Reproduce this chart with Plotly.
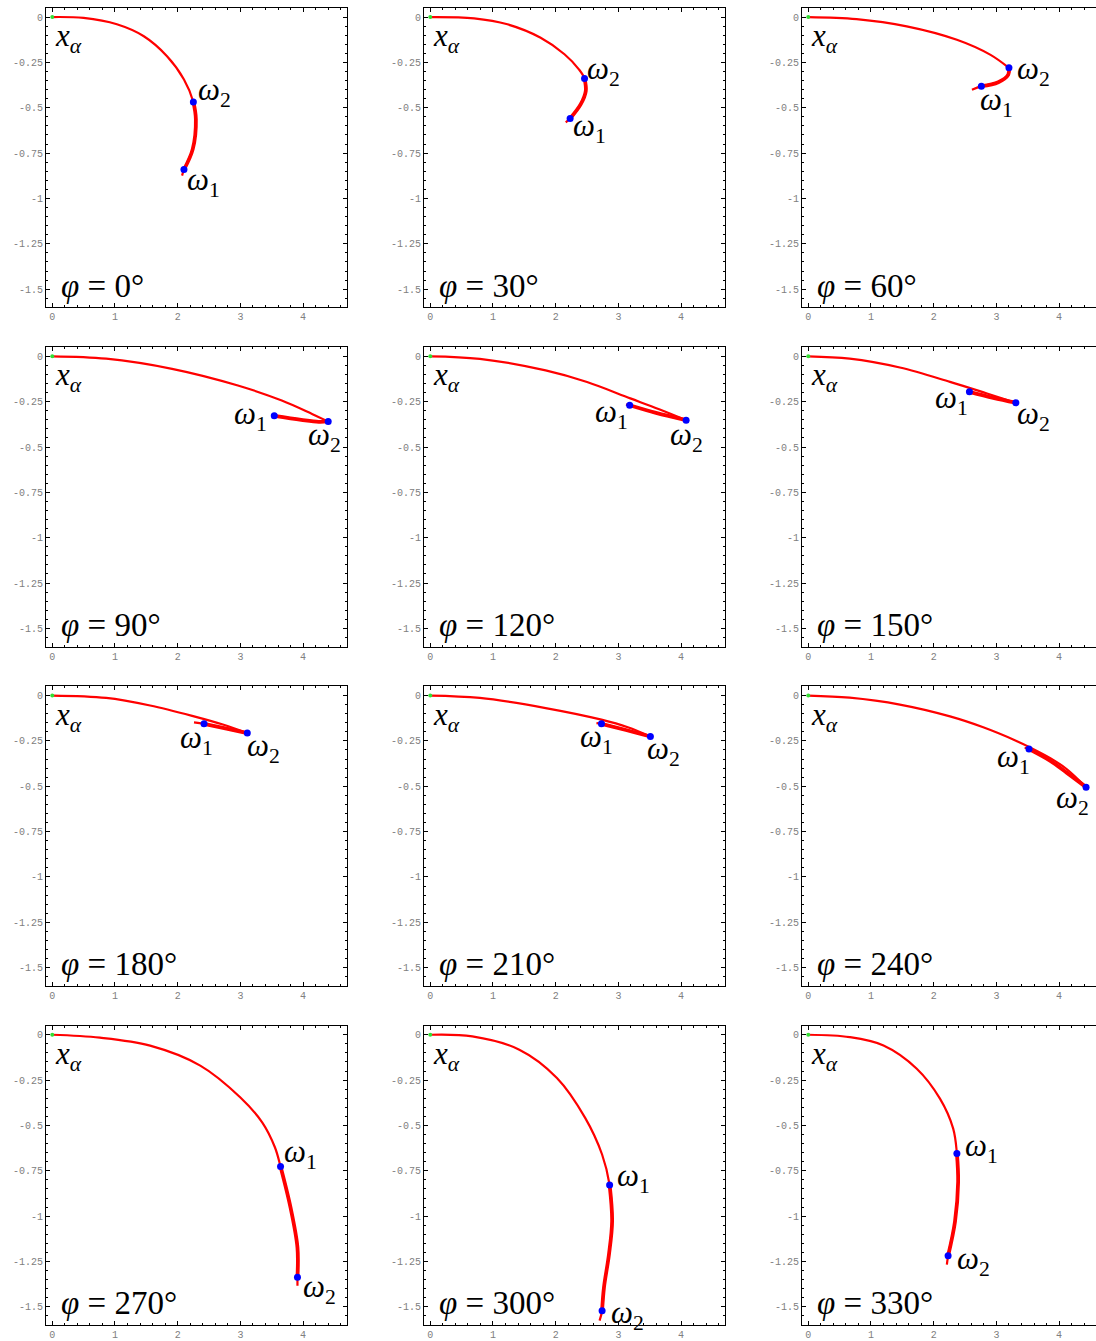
import plotly.graph_objects as go

# ---------------- data ----------------
phi_deg = [0, 30, 60, 90, 120, 150, 180, 210, 240, 270, 300, 330]

x_ticks = [0, 1, 2, 3, 4]
x_tick_text = ["0", "1", "2", "3", "4"]
y_ticks = [0, -0.25, -0.5, -0.75, -1, -1.25, -1.5]
y_tick_text = ["0", "-0.25", "-0.5", "-0.75", "-1", "-1.25", "-1.5"]

path_x_000 = [0, 0.50, 1.03, 1.46, 1.83, 2.10, 2.25, 2.29, 2.24, 2.10, 2.07]
path_y_000 = [0, -0.005, -0.04, -0.106, -0.216, -0.344, -0.468, -0.563, -0.728, -0.841, -0.874]
path_x_030 = [0, 0.70, 1.23, 1.76, 2.14, 2.37, 2.46, 2.48, 2.40, 2.23, 2.16]
path_y_030 = [0, -0.007, -0.04, -0.114, -0.205, -0.288, -0.339, -0.407, -0.48, -0.559, -0.581]
path_x_060 = [0, 0.77, 1.57, 2.37, 2.90, 3.20, 3.19, 3.03, 2.76, 2.61]
path_y_060 = [0, -0.011, -0.051, -0.125, -0.207, -0.280, -0.317, -0.359, -0.381, -0.401]
path_x_090 = [0, 0.86, 1.91, 2.96, 3.66, 4.15, 4.40, 4.25, 3.97, 3.54]
path_y_090 = [0, -0.013, -0.069, -0.161, -0.244, -0.319, -0.359, -0.361, -0.350, -0.328]
path_x_120 = [0, 0.79, 1.84, 2.50, 3.19, 3.65, 4.08, 3.60, 3.18, 3.12]
path_y_120 = [0, -0.014, -0.078, -0.142, -0.232, -0.292, -0.352, -0.312, -0.270, -0.266]
path_x_150 = [0, 0.66, 1.46, 2.26, 2.85, 3.31, 2.95, 2.57, 2.52]
path_y_150 = [0, -0.013, -0.062, -0.141, -0.205, -0.256, -0.229, -0.196, -0.193]
path_x_180 = [0, 0.86, 1.56, 2.26, 2.72, 3.11, 2.76, 2.42, 2.26]
path_y_180 = [0, -0.013, -0.055, -0.115, -0.160, -0.207, -0.181, -0.156, -0.148]
path_x_210 = [0, 0.79, 1.84, 2.73, 3.15, 3.51, 3.12, 2.73, 2.65]
path_y_210 = [0, -0.013, -0.069, -0.133, -0.175, -0.226, -0.190, -0.156, -0.152]
path_x_240 = [0, 0.66, 1.46, 2.26, 2.79, 3.32, 3.52, 3.86, 4.12, 4.43, 4.12, 3.86, 3.52, 3.45]
path_y_240 = [0, -0.012, -0.05, -0.115, -0.175, -0.250, -0.283, -0.345, -0.405, -0.505, -0.425, -0.360, -0.295, -0.288]
path_x_270 = [0, 0.76, 1.56, 2.36, 3.00, 3.35, 3.55, 3.64, 3.80, 3.91, 3.91, 3.91]
path_y_270 = [0, -0.016, -0.06, -0.17, -0.346, -0.484, -0.62, -0.726, -0.953, -1.173, -1.336, -1.384]
path_x_300 = [0, 0.67, 1.42, 2.02, 2.47, 2.74, 2.86, 2.90, 2.85, 2.77, 2.74, 2.70]
path_y_300 = [0, -0.009, -0.082, -0.238, -0.458, -0.66, -0.828, -1.026, -1.21, -1.393, -1.521, -1.576]
path_x_330 = [0, 0.66, 1.20, 1.73, 2.10, 2.31, 2.37, 2.39, 2.34, 2.23, 2.21]
path_y_330 = [0, -0.013, -0.059, -0.187, -0.352, -0.516, -0.654, -0.81, -1.029, -1.218, -1.267]

w1_x = [2.10, 2.23, 2.76, 3.54, 3.18, 2.57, 2.42, 2.73, 3.52, 3.64, 2.86, 2.37]
w1_y = [-0.841, -0.559, -0.381, -0.328, -0.270, -0.196, -0.156, -0.156, -0.295, -0.726, -0.828, -0.654]
w2_x = [2.25, 2.46, 3.20, 4.40, 4.08, 3.31, 3.11, 3.51, 4.43, 3.91, 2.74, 2.23]
w2_y = [-0.468, -0.339, -0.280, -0.359, -0.352, -0.256, -0.207, -0.226, -0.505, -1.336, -1.521, -1.218]

paths_x = [path_x_000, path_x_030, path_x_060, path_x_090, path_x_120, path_x_150,
           path_x_180, path_x_210, path_x_240, path_x_270, path_x_300, path_x_330]
paths_y = [path_y_000, path_y_030, path_y_060, path_y_090, path_y_120, path_y_150,
           path_y_180, path_y_210, path_y_240, path_y_270, path_y_300, path_y_330]

# ---------------- style / layout ----------------
W, H = 1096, 1341
col_px = [(46, 347), (424, 725), (802, 1096)]
row_px = [(8, 308), (348, 648), (688, 988), (1028, 1328)]
x_range_full = [-0.1, 4.7]
y_range = [-1.6, 0.05]
px_per_x = (347 - 46) / 4.8

# label offsets in pixels (dx right, dy down) for omega labels
w1_off = [(20, 12), (19, 10), (15, 16), (-24, 0), (-18, 9), (-18, 8),
          (-8, 16), (-5, 15), (-16, 10), (20, -12), (24, -7), (25, -5)]
w2_off = [(21, -10), (19, -8), (25, 3), (-4, 16), (0, 17), (18, 13),
          (16, 15), (13, 14), (-14, 13), (22, 12), (25, 4), (25, 5)]

RED = "#ff0000"
BLUE = "#0000ff"
GREEN = "#33dd33"
SERIF = "Liberation Serif, DejaVu Serif, serif"
LABEL_FONT = dict(family=SERIF, size=31, color="black")
PHI_FONT = dict(family=SERIF, size=33, color="black")
TICK_FONT = dict(family="Liberation Mono, Courier New, monospace", size=10, color="#808080")

fig = go.Figure()
layout = dict(width=W, height=H, margin=dict(l=0, r=0, t=0, b=0),
              paper_bgcolor="white", plot_bgcolor="white", showlegend=False)
annotations = []


def find_idx(xs, ys, px, py):
    for k, (a, b) in enumerate(zip(xs, ys)):
        if abs(a - px) < 1e-9 and abs(b - py) < 1e-9:
            return k
    return None


def split_at_reversals(xs, ys):
    """Split a path into pieces wherever its direction turns back."""
    cuts = [0]
    for k in range(1, len(xs) - 1):
        v1 = (xs[k] - xs[k - 1], ys[k] - ys[k - 1])
        v2 = (xs[k + 1] - xs[k], ys[k + 1] - ys[k])
        if v1[0] * v2[0] + v1[1] * v2[1] < 0:
            cuts.append(k)
    cuts.append(len(xs) - 1)
    return [(xs[s:e + 1], ys[s:e + 1]) for s, e in zip(cuts[:-1], cuts[1:])]


for i, phi in enumerate(phi_deg):
    r, c = divmod(i, 3)
    n = "" if i == 0 else str(i + 1)
    xa, ya = "x" + n, "y" + n
    x0p, x1p = col_px[c]
    y0p, y1p = row_px[r]
    xr = [x_range_full[0], x_range_full[0] + (x1p - x0p) / px_per_x]
    last_col = (c == 2)

    layout["xaxis" + n] = dict(
        domain=[x0p / W, x1p / W], anchor=ya, range=xr,
        tickmode="array", tickvals=x_ticks, ticktext=x_tick_text,
        ticks="inside", ticklen=4, tickwidth=1, tickcolor="black",
        minor=dict(tickmode="linear", tick0=0, dtick=0.2, ticks="inside",
                   ticklen=2, tickwidth=1, tickcolor="black"),
        showline=True, linecolor="black", linewidth=1, mirror="ticks",
        showgrid=False, zeroline=False, tickfont=TICK_FONT, fixedrange=True)
    layout["yaxis" + n] = dict(
        domain=[1 - y1p / H, 1 - y0p / H], anchor=xa, range=y_range,
        tickmode="array", tickvals=y_ticks, ticktext=y_tick_text,
        ticks="inside", ticklen=4, tickwidth=1, tickcolor="black",
        minor=dict(tickmode="linear", tick0=0, dtick=0.05, ticks="inside",
                   ticklen=2, tickwidth=1, tickcolor="black"),
        showline=True, linecolor="black", linewidth=1,
        mirror=False if last_col else "ticks",
        showgrid=False, zeroline=False, tickfont=TICK_FONT, fixedrange=True)

    px_, py_ = paths_x[i], paths_y[i]
    i1 = find_idx(px_, py_, w1_x[i], w1_y[i])
    i2 = find_idx(px_, py_, w2_x[i], w2_y[i])
    a, b = sorted([i1, i2])

    # thin curve (whole path, split only where it turns back)
    for sx, sy in split_at_reversals(px_, py_):
        fig.add_trace(go.Scatter(x=sx, y=sy, mode="lines", xaxis=xa, yaxis=ya,
                                 line=dict(color=RED, width=2.2, shape="spline", smoothing=1.0),
                                 hoverinfo="skip"))
    # thick band between the two omega points
    bx, by = px_[a:b + 1], py_[a:b + 1]
    for sx, sy in split_at_reversals(bx, by):
        fig.add_trace(go.Scatter(x=sx, y=sy, mode="lines", xaxis=xa, yaxis=ya,
                                 line=dict(color=RED, width=3.8, shape="spline", smoothing=1.0),
                                 hoverinfo="skip"))
    # origin point
    fig.add_trace(go.Scatter(x=[px_[0]], y=[py_[0]], mode="markers", xaxis=xa, yaxis=ya,
                             marker=dict(color=GREEN, size=4), hoverinfo="skip"))
    # omega points
    fig.add_trace(go.Scatter(x=[w1_x[i], w2_x[i]], y=[w1_y[i], w2_y[i]], mode="markers",
                             xaxis=xa, yaxis=ya, marker=dict(color=BLUE, size=7),
                             hoverinfo="skip"))

    # labels
    annotations.append(dict(x=px_[0], y=py_[0], xref=xa, yref=ya, xshift=16, yshift=-21,
                            text="<i>x</i><sub><i>α</i></sub>", showarrow=False,
                            font=LABEL_FONT))
    annotations.append(dict(x=w1_x[i], y=w1_y[i], xref=xa, yref=ya,
                            xshift=w1_off[i][0], yshift=-w1_off[i][1],
                            text="<i>ω</i><sub>1</sub>", showarrow=False, font=LABEL_FONT))
    annotations.append(dict(x=w2_x[i], y=w2_y[i], xref=xa, yref=ya,
                            xshift=w2_off[i][0], yshift=-w2_off[i][1],
                            text="<i>ω</i><sub>2</sub>", showarrow=False, font=LABEL_FONT))
    annotations.append(dict(x=0.1, y=-1.48, xref=xa, yref=ya, xanchor="left",
                            text="<i>φ</i> = %d°" % phi, showarrow=False, font=PHI_FONT))

layout["annotations"] = annotations
fig.update_layout(**layout)
fig.write_html("out.html")
